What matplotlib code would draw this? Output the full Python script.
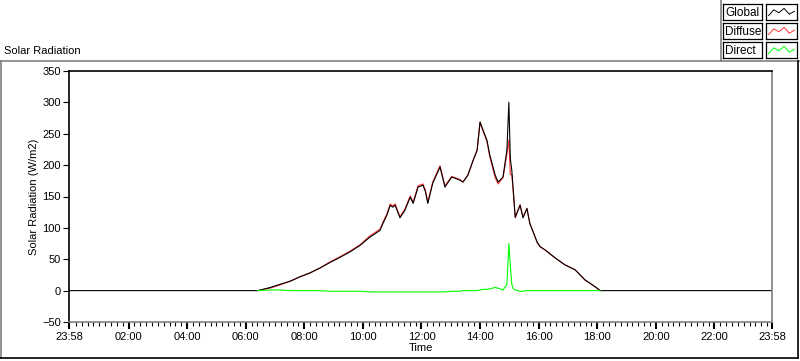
import matplotlib
matplotlib.use('Agg')
import matplotlib.pyplot as plt
from matplotlib.lines import Line2D

plt.rcParams['font.family'] = ['Liberation Sans', 'DejaVu Sans']
plt.rcParams['font.size'] = 8

# readings during daylight (HH:MM, W/m2); zero at night
times = ['06:25', '06:50', '07:10', '07:31', '07:51', '08:11', '08:32', '08:53',
         '09:13', '09:34', '09:54', '10:14', '10:35', '10:41', '10:49', '10:56',
         '11:01', '11:06', '11:16', '11:26', '11:37', '11:43', '11:53', '12:03',
         '12:08', '12:13', '12:23', '12:38', '12:48', '13:02', '13:19', '13:25',
         '13:35', '13:46', '13:54', '14:00', '14:06', '14:14', '14:20', '14:31',
         '14:37', '14:47', '14:55', '14:59', '15:02', '15:05', '15:08', '15:12',
         '15:22', '15:28', '15:36', '15:42', '15:57', '16:03', '16:13', '16:34',
         '16:54', '17:15', '17:35', '17:56', '18:06']
global_rad = [0, 5, 10, 15, 22, 28, 36, 45,
              53, 62, 72, 85, 96, 107, 120, 136,
              133, 136, 116, 128, 149, 139, 165, 168,
              158, 139, 171, 197, 165, 181, 176, 173,
              184, 208, 224, 269, 256, 240, 216, 184,
              173, 181, 224, 300, 210, 192, 160, 117,
              136, 116, 131, 107, 77, 70, 65, 52,
              41, 33, 17, 6, 0]
diffuse_rad = [0, 4, 9, 15, 22, 28, 36, 46,
               54, 63, 73, 87, 98, 109, 122, 138,
               135, 138, 118, 130, 151, 141, 167, 170,
               160, 141, 173, 199, 167, 182, 177, 173,
               184, 208, 224, 268, 254, 238, 213, 180,
               170, 180, 218, 240, 185, 185, 158, 116,
               137, 117, 131, 107, 77, 70, 65, 52,
               41, 33, 17, 6, 0]
direct_rad = [0, 1, 1, 0, 0, 0, 0, -1,
              -1, -1, -1, -2, -2, -2, -2, -2,
              -2, -2, -2, -2, -2, -2, -2, -2,
              -2, -2, -2, -2, -2, -1, -1, 0,
              0, 0, 0, 1, 2, 2, 3, 5,
              4, 1, 10, 75, 40, 10, 3, 1,
              -1, -1, 0, 0, 0, 0, 0, 0,
              0, 0, 0, 0, 0]

series_names = ['Global', 'Diffuse', 'Direct']
series_colors = ['#000000', '#ff3030', '#00ff00']
legend_sample = [0.3, 0.7, 0.5, 0.8, 0.4, 0.6]

x_start = -2 / 60.0
x_end = 24 - 2 / 60.0


def to_hours(t):
    h, m = t.split(':')
    return int(h) + int(m) / 60.0


hours = [to_hours(t) for t in times]
global_x = [x_start] + hours + [x_end]
global_y = [0] + global_rad + [0]

fig = plt.figure(figsize=(8, 3.61), dpi=100)
W, H = 800.0, 361.0

ax = fig.add_axes([69 / W, 1 - 322 / H, (772 - 69) / W, (322 - 71) / H])
ax.plot(hours, diffuse_rad, color=series_colors[1], lw=0.8)
ax.plot(global_x, global_y, color=series_colors[0], lw=0.8)
ax.plot(hours, direct_rad, color=series_colors[2], lw=0.8)

ax.set_xlim(x_start, x_end)
ax.set_ylim(-50, 350)
ax.set_yticks(range(-50, 351, 50))
xt = [x_start] + list(range(2, 24, 2)) + [x_end]
xl = ['23:58'] + ['%02d:00' % h for h in range(2, 24, 2)] + ['23:58']
ax.set_xticks(xt)
ax.set_xticklabels(xl)
ax.set_xticks([i * 0.2 for i in range(1, 120) if i % 10 != 0], minor=True)
ax.tick_params(axis='x', which='major', length=5, width=1.5, direction='out', pad=2)
ax.tick_params(axis='x', which='minor', length=3, width=0.8, direction='out')
ax.tick_params(axis='y', length=4, width=0.8, direction='out', pad=2)
for s in ['left', 'top']:
    ax.spines[s].set_color('black')
    ax.spines[s].set_linewidth(1.2)
for s in ['right', 'bottom']:
    ax.spines[s].set_color('#808080')
    ax.spines[s].set_linewidth(1.2)

ax.set_xlabel('Time', labelpad=1)
ax.set_ylabel('Solar Radiation (W/m2)', labelpad=2)
fig.text(4 / W, 1 - 51 / H, 'Solar Radiation', ha='left', va='center')


# outer panel frame
def fline(x0, y0, x1, y1, color):
    fig.add_artist(Line2D([x0 / W, x1 / W], [1 - y0 / H, 1 - y1 / H],
                          color=color, lw=1.2, transform=fig.transFigure))


fline(1, 61, 1, 358, '#808080')
fline(0, 61, 721, 61, '#808080')
fline(721, 0, 721, 61, '#808080')
fline(721, 61, 800, 61, '#808080')
fline(798, 61, 798, 358, 'black')
fline(0, 358, 798, 358, 'black')

# legend
for i, name in enumerate(series_names):
    top = 4 + i * 19
    tax = fig.add_axes([723 / W, 1 - (top + 16) / H, 39 / W, 16 / H])
    tax.set_xticks([])
    tax.set_yticks([])
    tax.text(0.05, 0.45, name, ha='left', va='center', fontsize=8.5,
             transform=tax.transAxes)
    for s in tax.spines.values():
        s.set_linewidth(0.9)
    lax = fig.add_axes([766 / W, 1 - (top + 16) / H, 31 / W, 16 / H])
    lax.plot(range(len(legend_sample)), legend_sample, color=series_colors[i], lw=0.7)
    lax.set_xlim(-0.5, len(legend_sample) - 0.5)
    lax.set_ylim(0, 1.1)
    lax.set_xticks([])
    lax.set_yticks([])
    for s in lax.spines.values():
        s.set_linewidth(0.9)

fig.savefig('out.png', dpi=100)
